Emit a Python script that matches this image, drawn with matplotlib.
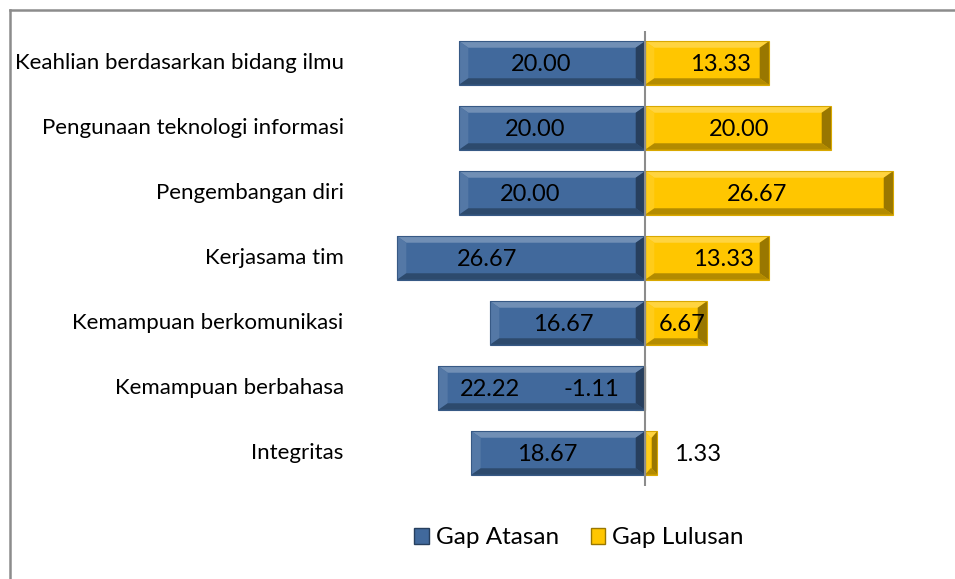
import matplotlib
matplotlib.use("Agg")
import matplotlib.pyplot as plt
from matplotlib.patches import Polygon, Rectangle
from matplotlib.lines import Line2D
import matplotlib.colors as mcolors

plt.rcParams['font.family'] = ['Lato', 'DejaVu Sans']

categories = ["Keahlian berdasarkan bidang ilmu", "Pengunaan teknologi informasi",
              "Pengembangan diri", "Kerjasama tim", "Kemampuan berkomunikasi",
              "Kemampuan berbahasa", "Integritas"]
gap_atasan = [20.00, 20.00, 20.00, 26.67, 16.67, 22.22, 18.67]
gap_lulusan = [13.33, 20.00, 26.67, 13.33, 6.67, -1.11, 1.33]
# label x-positions (data units) as placed in the original chart
atasan_label_x = [-11.2, -11.8, -12.3, -17.0, -8.8, -16.7, -10.5]
lulusan_label_x = [8.1, 10.1, 12.1, 8.4, 4.0, -5.8, 5.6]

BLUE = "#41699C"
YELLOW = "#FFC600"

fig = plt.figure(figsize=(9.55, 5.79), dpi=100)
W, H = 955, 579
ax = fig.add_axes([366 / W, 1 - 485.5 / H, (924 - 366) / W, (485.5 - 30.5) / H])
ax.set_xlim(-30, 30)
ax.set_ylim(len(categories) - 0.5, -0.5)
ax.axis('off')

ypos = list(range(len(categories)))
bh = 0.67
bars_b = ax.barh(ypos, [-v for v in gap_atasan], height=bh, color=BLUE, zorder=3)
bars_y = ax.barh(ypos, gap_lulusan, height=bh, color=YELLOW, zorder=2)


def shade(c, f):
    r, g, b = mcolors.to_rgb(c)
    if f > 1:
        return (r + (1 - r) * (f - 1), g + (1 - g) * (f - 1), b + (1 - b) * (f - 1))
    return (r * f, g * f, b * f)


def bevel(patch, color, z):
    x0 = patch.get_x(); w = patch.get_width()
    y0 = patch.get_y(); h = patch.get_height()
    x1 = x0 + w
    xa, xb = min(x0, x1), max(x0, x1)
    ya, yb = y0, y0 + h  # ya top (inverted axis), yb bottom
    dx = min(1.0, (xb - xa) / 2.2)
    dy = 0.1
    top = [(xa, ya), (xb, ya), (xb - dx, ya + dy), (xa + dx, ya + dy)]
    bot = [(xa, yb), (xb, yb), (xb - dx, yb - dy), (xa + dx, yb - dy)]
    left = [(xa, ya), (xa + dx, ya + dy), (xa + dx, yb - dy), (xa, yb)]
    right = [(xb, ya), (xb - dx, ya + dy), (xb - dx, yb - dy), (xb, yb)]
    ax.add_patch(Polygon(top, closed=True, color=shade(color, 1.25), zorder=z + 0.1, lw=0))
    ax.add_patch(Polygon(left, closed=True, color=shade(color, 1.1), zorder=z + 0.1, lw=0))
    ax.add_patch(Polygon(bot, closed=True, color=shade(color, 0.7), zorder=z + 0.1, lw=0))
    ax.add_patch(Polygon(right, closed=True, color=shade(color, 0.6), zorder=z + 0.1, lw=0))
    ax.add_patch(Rectangle((xa, ya), xb - xa, h, fill=False, ec=shade(color, 0.85), lw=0.8, zorder=z + 0.2))


for p in bars_b:
    bevel(p, BLUE, 3)
for p in bars_y:
    bevel(p, YELLOW, 2)

ax.axvline(0, color="#8C8C8C", lw=1.5, zorder=5)

for i, (a, l) in enumerate(zip(gap_atasan, gap_lulusan)):
    ax.text(atasan_label_x[i], i + 0.03, f"{a:.2f}", ha='center', va='center', fontsize=17, zorder=6, color='black')
    ax.text(lulusan_label_x[i], i + 0.03, f"{l:.2f}", ha='center', va='center', fontsize=17, zorder=6, color='black')
    ax.text(-32.4, i, categories[i], ha='right', va='center', fontsize=16, zorder=6, color='black')

# outer frame (left and top lines)
fig.add_artist(Line2D([9.5 / W, 9.5 / W], [0, 1 - 10 / H], transform=fig.transFigure, color="#8C8C8C", lw=1.8))
fig.add_artist(Line2D([9.5 / W, 1], [1 - 10 / H, 1 - 10 / H], transform=fig.transFigure, color="#8C8C8C", lw=1.8))

# legend
handles = [Rectangle((0, 0), 1, 1, color=BLUE, ec=shade(BLUE, 0.6)),
           Rectangle((0, 0), 1, 1, color=YELLOW, ec=shade(YELLOW, 0.6))]
fig.legend(handles, ["Gap Atasan", "Gap Lulusan"], loc='center', bbox_to_anchor=(579 / W, 1 - 538 / H),
           ncol=2, frameon=False, fontsize=17.5, handlelength=0.6, handleheight=0.6,
           handletextpad=0.3, columnspacing=1.3)

fig.savefig("out.png", dpi=100)
